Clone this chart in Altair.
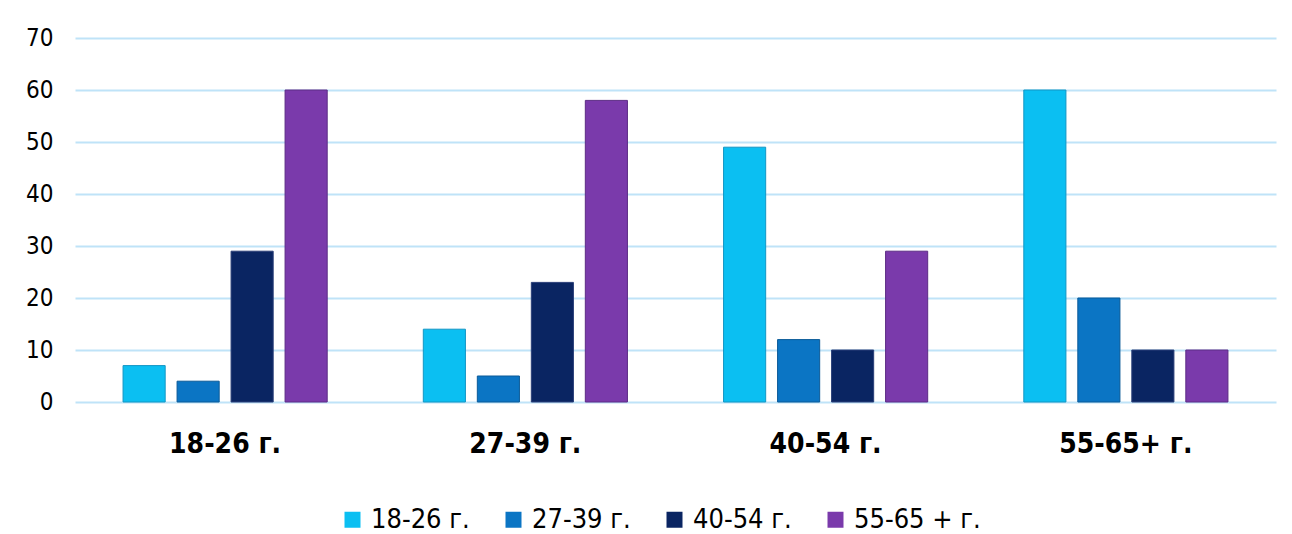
import altair as alt
import pandas as pd

groups = ["18-26 г.", "27-39 г.", "40-54 г.", "55-65+ г."]
series = ["18-26 г.", "27-39 г.", "40-54 г.", "55-65 + г."]
values = {
    "18-26 г.": [7, 14, 49, 60],
    "27-39 г.": [4, 5, 12, 20],
    "40-54 г.": [29, 23, 10, 10],
    "55-65 + г.": [60, 58, 29, 10],
}
colors = ["#0BBFF2", "#0B75C4", "#0A2562", "#7A3AAB"]
strokes = ["#1396C4", "#0B5A98", "#2A3F78", "#5C2C85"]

rows = []
for s in series:
    for g, v in zip(groups, values[s]):
        rows.append({"group": g, "series": s, "value": v})
df = pd.DataFrame(rows)

chart = alt.Chart(df).mark_bar(strokeWidth=1).encode(
    x=alt.X("group:N", sort=groups, title=None,
            scale=alt.Scale(paddingInner=0, paddingOuter=0),
            axis=alt.Axis(labelAngle=0, labelFont="DejaVu Sans Condensed",
                          labelFontWeight="bold", labelFontSize=28,
                          labelColor="#000000", labelPadding=28, labelLimit=400,
                          domain=False, ticks=False)),
    xOffset=alt.XOffset("series:N", sort=series,
                        scale=alt.Scale(paddingInner=0.22, paddingOuter=0.89)),
    y=alt.Y("value:Q", title=None,
            scale=alt.Scale(domain=[0, 70]),
            axis=alt.Axis(values=[0, 10, 20, 30, 40, 50, 60, 70],
                          labelFont="DejaVu Sans Condensed", labelFontSize=24,
                          labelColor="#000000", labelPadding=22,
                          domain=False, ticks=False,
                          gridColor="#BFE3F8", gridWidth=2)),
    color=alt.Color("series:N", sort=series,
                    scale=alt.Scale(domain=series, range=colors),
                    legend=alt.Legend(title=None, orient="none", direction="horizontal",
                                      legendX=264, legendY=468,
                                      symbolType="square", symbolSize=256,
                                      symbolStrokeWidth=0,
                                      labelFont="DejaVu Sans Condensed",
                                      labelFontSize=27, labelColor="#000000",
                                      labelLimit=400,
                                      labelOffset=5, columnPadding=30)),
    stroke=alt.Stroke("series:N", sort=series,
                      scale=alt.Scale(domain=series, range=strokes), legend=None),
).properties(
    width=1201, height=364,
    autosize=alt.AutoSizeParams(type="none"),
    padding={"left": 75, "top": 38, "right": 16, "bottom": 132},
    background="#FFFFFF",
).configure_view(stroke=None)

chart.save("out.html", embed_options={"renderer": "svg", "actions": False})
